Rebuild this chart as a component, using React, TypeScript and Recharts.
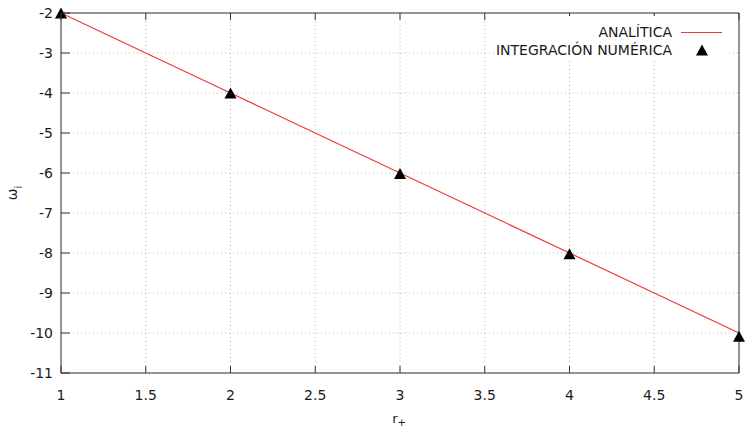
import React from 'react';
import { ComposedChart, Line, XAxis, YAxis, CartesianGrid, Legend, Label } from 'recharts';

const rValues = [1, 2, 3, 4, 5];
const analytic = [-2, -4, -6, -8, -10];
const numeric = [-2, -4, -6.01, -8.02, -10.08];
const xTicks = [1, 1.5, 2, 2.5, 3, 3.5, 4, 4.5, 5];
const yTicks = [-11, -10, -9, -8, -7, -6, -5, -4, -3, -2];

const data = rValues.map((r, i) => ({ r, analytic: analytic[i], numeric: numeric[i] }));

const FONT = "'DejaVu Sans', Verdana, sans-serif";
const TEXT = '#1a1a1a';
const BORDER = '#333';
const RED = '#f03a3a';

const BottomTick = (props: any) => {
  const { x, y, payload } = props;
  return (
    <g>
      <line x1={x} x2={x} y1={y} y2={y - 7} stroke={BORDER} />
      <text x={x} y={y + 27} textAnchor="middle" fontSize={14} fontFamily={FONT} fill={TEXT}>
        {payload.value}
      </text>
    </g>
  );
};

const LeftTick = (props: any) => {
  const { x, y, payload } = props;
  return (
    <g>
      <line x1={x} x2={x + 9} y1={y} y2={y} stroke={BORDER} />
      <text x={x - 8} y={y + 5} textAnchor="end" fontSize={14} fontFamily={FONT} fill={TEXT}>
        {payload.value}
      </text>
    </g>
  );
};

const TopTick = (props: any) => {
  const { x, y } = props;
  return <line x1={x} x2={x} y1={y} y2={y + 7} stroke={BORDER} />;
};

const RightTick = (props: any) => {
  const { x, y } = props;
  return <line x1={x} x2={x - 9} y1={y} y2={y} stroke={BORDER} />;
};

const Triangle = (props: any) => {
  const { cx, cy } = props;
  if (cx == null || cy == null) return null;
  return <polygon points={`${cx},${cy - 5.5} ${cx - 6},${cy + 5.5} ${cx + 6},${cy + 5.5}`} fill="#000" />;
};

const LegendBox = () => (
  <div style={{ background: '#fff', width: 232, height: 43, paddingTop: 7, boxSizing: 'border-box', fontFamily: FONT, fontSize: 14, color: TEXT }}>
    <div style={{ display: 'flex', alignItems: 'center', height: 18 }}>
      <div style={{ width: 177, textAlign: 'right', whiteSpace: 'nowrap' }}>ANALÍTICA</div>
      <div style={{ marginLeft: 9, width: 41, height: 0, borderTop: `1px solid ${RED}` }} />
    </div>
    <div style={{ display: 'flex', alignItems: 'center', height: 18 }}>
      <div style={{ width: 177, textAlign: 'right', whiteSpace: 'nowrap' }}>INTEGRACIÓN NUMÉRICA</div>
      <svg width={50} height={18} style={{ display: 'block' }}>
        <polygon points="30,3.5 24,14.5 36,14.5" fill="#000" />
      </svg>
    </div>
  </div>
);

const YLabel = (props: any) => (
  <text x={17} y={193} transform="rotate(-90, 17, 193)" textAnchor="middle" fontSize={14} fontFamily={FONT} fill={TEXT}>
    <tspan>ω</tspan>
    <tspan fontSize={10} dy={5}>i</tspan>
  </text>
);

const XLabel = (props: any) => (
  <text x={399} y={423} textAnchor="middle" fontSize={13} fontFamily={FONT} fill={TEXT}>
    <tspan>r</tspan>
    <tspan fontSize={10} dy={3}>+</tspan>
  </text>
);

export default function App() {
  return (
    <div style={{ position: 'absolute', left: 0, top: 0, width: 747, height: 430, background: '#fff' }}>
      <ComposedChart width={747} height={430} data={data} margin={{ top: 0, right: 0, bottom: 0, left: 0 }}>
        <CartesianGrid xAxisId="b" yAxisId="l" stroke="#b4b4b4" strokeDasharray="1 3" />
        <XAxis xAxisId="b" dataKey="r" type="number" domain={[1, 5]} ticks={xTicks} interval={0}
          height={57} tickSize={0} tickMargin={0} tick={<BottomTick />} axisLine={{ stroke: BORDER }} tickLine={false}>
          <Label content={<XLabel />} />
        </XAxis>
        <XAxis xAxisId="t" orientation="top" dataKey="r" type="number" domain={[1, 5]} ticks={xTicks} interval={0}
          height={13} tickSize={0} tickMargin={0} tick={<TopTick />} axisLine={{ stroke: BORDER }} tickLine={false} />
        <YAxis yAxisId="l" type="number" domain={[-11, -2]} ticks={yTicks} interval={0}
          width={61} tickSize={0} tickMargin={0} tick={<LeftTick />} axisLine={{ stroke: BORDER }} tickLine={false}>
          <Label content={<YLabel />} />
        </YAxis>
        <YAxis yAxisId="r" orientation="right" type="number" domain={[-11, -2]} ticks={yTicks} interval={0}
          width={8} tickSize={0} tickMargin={0} tick={<RightTick />} axisLine={{ stroke: BORDER }} tickLine={false} />
        <Line xAxisId="b" yAxisId="l" dataKey="analytic" stroke={RED} strokeWidth={1.2} dot={false} isAnimationActive={false} />
        <Line xAxisId="b" yAxisId="l" dataKey="numeric" stroke="none" dot={<Triangle />} activeDot={false} isAnimationActive={false} />
        <Legend layout="vertical" align="center" verticalAlign="middle" content={<LegendBox />}
          wrapperStyle={{ left: 495, top: 16, width: 232, height: 43 }} />
      </ComposedChart>
    </div>
  );
}
